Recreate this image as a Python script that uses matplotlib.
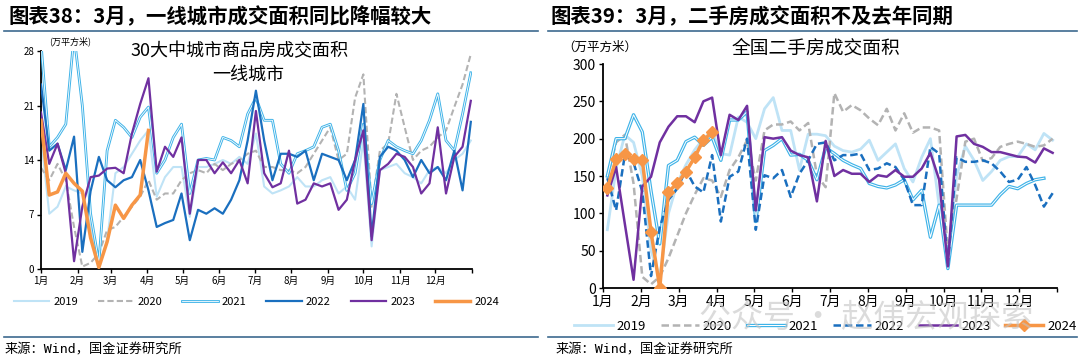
import numpy as np
import matplotlib
matplotlib.use("Agg")
import matplotlib.pyplot as plt
from matplotlib import patheffects as pe
from matplotlib.lines import Line2D

plt.rcParams['font.family'] = ['Noto Sans CJK SC', 'DejaVu Sans']
plt.rcParams['axes.unicode_minus'] = False

# ---- left chart: 30 city new home sales, first-tier cities (weekly, by day of year)
days = list(range(0, 365, 7))
month_starts = [0, 31, 59, 90, 120, 151, 181, 212, 243, 273, 304, 334, 365]
month_labels = ["1月", "2月", "3月", "4月", "5月", "6月", "7月", "8月",
                "9月", "10月", "11月", "12月", ""]

city_2019 = [17, 7.1, 8, 10.6, 10.1, 9.7, 5.4, 0.3, 3.7, 12.3,
             13.1, 14.8, 16.5, 17.8, 9.3, 11.8, 13.1, 13.1, 6.7, 13.1,
             13.1, 13.5, 14, 13.5, 14.4, 13.5, 17.4, 10.6, 9.7, 10.1,
             10.6, 11.8, 10.6, 10.6, 11.4, 11.8, 9.7, 10.6, 8.9, 16.5,
             2.9, 12.7, 13.1, 13.5, 12.3, 11.8, 11, 12.7, 13.1, 12.3,
             14, 14.8, 16.5]
city_2020 = [13, 11.4, 13.5, 11.4, 5.4, 0.3, 0.8, 2, 5, 5.4,
             6.7, 8, 9.3, 11.4, 8.9, 9.7, 9.7, 11.4, 12.3, 12.7,
             12.3, 13.5, 12.7, 13.5, 14, 14.8, 15.2, 13.1, 13.1, 12.7,
             12.7, 12.3, 13.1, 14.8, 16.5, 18.2, 14, 14.8, 22, 25,
             8, 15.2, 16.1, 22.5, 18.2, 14, 15.2, 15.7, 16.9, 17.8,
             20.8, 23.7, 27.6]
city_2021 = [29, 15.7, 16.9, 18.6, 30, 21, 7.1, 0.8, 15.2, 19.1,
             18.2, 16.9, 19.5, 20.8, 12.3, 14, 16.9, 18.6, 9.7, 14,
             14.2, 14, 16.9, 16.5, 15.7, 19.9, 22, 19.1, 19.1, 13.5,
             12.3, 14.8, 15.2, 15.7, 18.2, 18.6, 15.2, 10.1, 12.3, 18.6,
             8.4, 14, 16.5, 15.7, 15.2, 14.8, 16.5, 19.1, 22.5, 16.5,
             15.2, 19.9, 25.2]
city_2022 = [23.7, 15.2, 16.1, 12.7, 17, 2.2, 10, 14.4, 11.4, 10.5,
             11.4, 11.8, 14, 10.1, 5.4, 5.9, 6.3, 9.7, 3.7, 7.6,
             7.1, 7.8, 7.1, 8.9, 11.4, 16.5, 22.9, 16.5, 11.4, 14.8,
             14.8, 14.4, 15.2, 11.4, 14.8, 14.4, 14, 11.4, 14, 21.2,
             4.2, 14.4, 15.7, 15.2, 14, 11.8, 14, 12.3, 13.1, 11.4,
             15.2, 10.1, 18.9]
city_2023 = [20.1, 13.5, 16.1, 12.3, 1.0, 8, 11.8, 12, 12.9, 13,
             12.3, 17.4, 21.2, 24.5, 12.5, 15.7, 14.4, 16.9, 7.1, 14,
             14, 12.3, 13.7, 12.3, 14, 11, 20.3, 12.3, 10.5, 11,
             15.2, 8.4, 8.9, 11, 10.6, 11, 7.6, 8.9, 14, 17.8,
             3.7, 12.7, 13.5, 14.8, 14.4, 13.1, 9.7, 11, 18.2, 9.7,
             14.4, 15.7, 21.6]
city_2024 = [19.1, 9.5, 9.9, 12.3, 11.0, 10.0, 4.0, 0.2, 3.5, 8.2,
             6.5, 8.2, 9.5, 17.8]

# ---- right chart: national second-hand home sales (weekly)
weeks_ticks = np.linspace(0, 52, 13)
resale_2019 = [78, 160, 205, 195, 150, 50, 15, 100, 140, 165,
               185, 200, 210, 180, 178, 229, 222, 200, 240, 255,
               211, 211, 158, 206, 206, 204, 190, 184, 182, 186,
               198, 171, 182, 193, 160, 142, 175, 200, 110, 40,
               150, 190, 171, 144, 156, 171, 176, 176, 193, 185,
               207, 198]
resale_2020 = [148, 195, 205, 140, 15, 5, 15, 40, 70, 100,
               125, 147, 144, 122, 158, 175, 198, 144, 211, 219,
               219, 223, 211, 221, 151, 135, 261, 236, 245, 238,
               227, 218, 240, 211, 234, 208, 215, 215, 211, 47,
               120, 196, 200, 170, 174, 189, 193, 196, 193, 189,
               191, 200]
resale_2021 = [150, 200, 200, 232, 209, 130, 59, 164, 171, 196,
               202, 191, 202, 171, 225, 225, 236, 89, 184, 191,
               200, 178, 179, 171, 145, 188, 180, 171, 165, 160,
               140, 136, 134, 138, 145, 118, 131, 68, 111, 26,
               111, 111, 111, 111, 111, 125, 136, 133, 140, 145,
               147]
resale_2022 = [147, 104, 178, 168, 129, 16, 81, 118, 133, 158,
               136, 128, 178, 89, 149, 156, 200, 78, 151, 147,
               158, 122, 153, 171, 193, 195, 171, 178, 178, 180,
               158, 160, 167, 162, 145, 111, 111, 189, 180, 29,
               175, 169, 169, 171, 167, 156, 142, 145, 162, 138,
               109, 127]
resale_2023 = [124, 162, 86, 11, 136, 149, 195, 216, 230, 230,
               222, 250, 255, 178, 232, 225, 244, 104, 202, 200,
               202, 184, 178, 175, 116, 197, 150, 158, 153, 153,
               142, 151, 149, 158, 149, 149, 160, 181, 145, 29,
               203, 205, 193, 189, 182, 182, 179, 176, 175, 168,
               187, 181]
resale_2024 = [133.5, 172.7, 179.4, 172.7, 171.4, 75.4, 0, 129, 140.2,
               155.8, 175, 198, 208.5]

C19 = "#bfe3f6"
C20 = "#b3b3b3"
C21 = "#3fb3e8"
C22 = "#1a6fbf"
C23 = "#7030a0"
C24 = "#f79646"
RULE = "#3d6a8f"
SOURCE_FONT = ['DejaVu Sans Mono', 'Noto Sans CJK SC']


def style_axes(ax, size):
    for s in ["top", "right"]:
        ax.spines[s].set_visible(False)
    for s in ["left", "bottom"]:
        ax.spines[s].set_linewidth(1.3)
        ax.spines[s].set_color("black")
    ax.tick_params(labelsize=size, length=3, width=1, pad=2)


def double_line(ax, x, y, width):
    ax.plot(x, y, color="white", lw=width * 0.3,
            path_effects=[pe.withStroke(linewidth=width, foreground=C21)],
            label="2021", zorder=3)


def left_chart(fig):
    ax = fig.add_axes([41 / 1080, 1 - 269 / 361, 431 / 1080, 218 / 361])
    ax.plot(days, city_2019, color=C19, lw=1.5, label="2019", zorder=2)
    ax.plot(days, city_2020, color=C20, lw=1.5, ls=(0, (3, 1.5)),
            label="2020", zorder=2)
    double_line(ax, days, city_2021, 2.0)
    ax.plot(days, city_2022, color=C22, lw=1.6, label="2022", zorder=3)
    ax.plot(days, city_2023, color=C23, lw=1.6, label="2023", zorder=4)
    ax.plot(days[:len(city_2024)], city_2024, color=C24, lw=2.5,
            label="2024", zorder=5)
    ax.set_xlim(0, 365)
    ax.set_ylim(0, 28)
    ax.set_yticks([0, 7, 14, 21, 28])
    ax.set_xticks(month_starts)
    ax.set_xticklabels(month_labels)
    style_axes(ax, 7)
    ax.text(0.02, 1.03, "(万平方米)", transform=ax.transAxes, fontsize=6.5)
    ax.text(0.46, 1.0, "30大中城市商品房成交面积", transform=ax.transAxes,
            fontsize=13, ha="center", va="center")
    ax.text(0.48, 0.89, "一线城市", transform=ax.transAxes,
            fontsize=13, ha="center", va="center")
    ax.legend(loc="center", bbox_to_anchor=(0.5, -0.15), ncol=6,
              frameon=False, fontsize=8, handlelength=3.2,
              handletextpad=0.35, columnspacing=1.8)


def right_chart(fig):
    ax = fig.add_axes([603 / 1080, 1 - 288 / 361, 454 / 1080, 224 / 361])
    x = lambda s: np.arange(len(s)) + 0.5
    ax.plot(x(resale_2019), resale_2019, color=C19, lw=2.0,
            label="2019", zorder=2)
    ax.plot(x(resale_2020), resale_2020, color=C20, lw=1.8,
            ls=(0, (3, 1.5)), label="2020", zorder=2)
    double_line(ax, x(resale_2021), resale_2021, 2.4)
    ax.plot(x(resale_2022), resale_2022, color=C22, lw=1.8,
            ls=(0, (3, 1.5)), label="2022", zorder=3)
    ax.plot(x(resale_2023), resale_2023, color=C23, lw=1.8,
            label="2023", zorder=4)
    ax.plot(x(resale_2024), resale_2024, color=C24, lw=2.5,
            marker="D", ms=6, label="2024", zorder=5)
    ax.set_xlim(0, 52)
    ax.set_ylim(0, 300)
    ax.set_yticks(range(0, 301, 50))
    ax.set_xticks(weeks_ticks)
    ax.set_xticklabels(month_labels)
    style_axes(ax, 10)
    ax.text(-0.09, 1.06, "（万平方米）", transform=ax.transAxes, fontsize=9)
    ax.text(0.47, 1.07, "全国二手房成交面积", transform=ax.transAxes,
            fontsize=13.5, ha="center", va="center")
    ax.legend(loc="center", bbox_to_anchor=(0.49, -0.17), ncol=6,
              frameon=False, fontsize=9.5, handlelength=2.9,
              handletextpad=0.3, columnspacing=1.1)


def main():
    fig = plt.figure(figsize=(10.8, 3.61), dpi=100)

    fig.text(8 / 1080, 1 - 17 / 361, "图表38：3月，一线城市成交面积同比降幅较大",
             fontsize=14.7, fontweight="bold", va="center")
    fig.text(551 / 1080, 1 - 17 / 361, "图表39：3月，二手房成交面积不及去年同期",
             fontsize=14.7, fontweight="bold", va="center")
    for x0, x1 in [(0.004, 0.498), (0.507, 0.997)]:
        for yy in [1 - 31 / 361, 1 - 337 / 361]:
            fig.add_artist(Line2D([x0, x1], [yy, yy], color=RULE, lw=1.2))
    fig.text(5 / 1080, 1 - 350 / 361, "来源：Wind，国金证券研究所",
             fontsize=9.5, va="center", family=SOURCE_FONT)
    fig.text(556 / 1080, 1 - 350 / 361, "来源：Wind，国金证券研究所",
             fontsize=9.5, va="center", family=SOURCE_FONT)

    left_chart(fig)
    right_chart(fig)

    # faint account watermark over the right legend, as in the source image
    fig.text(866 / 1080, 1 - 318 / 361, "公众号 · 赵伟宏观探索", fontsize=23,
             color="#c4c4c4", alpha=0.6, ha="center", va="center", zorder=10)

    fig.savefig("out.png", dpi=100)


if __name__ == "__main__":
    main()
